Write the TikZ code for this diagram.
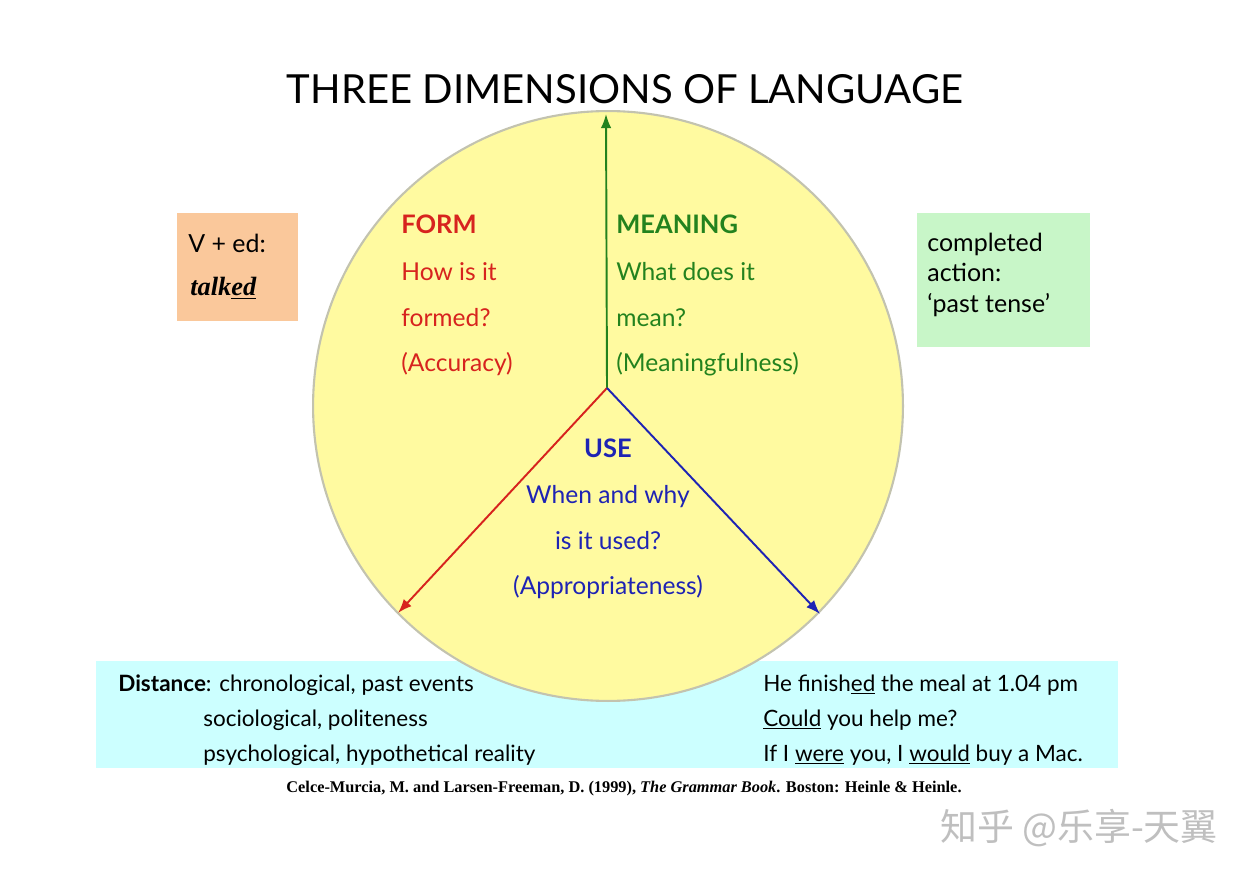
\documentclass[tikz,border=0pt]{standalone}
\usepackage{fontspec}
\usetikzlibrary{arrows.meta}
\setmainfont{Lato}
\newfontfamily\citefont{Liberation Serif}
\newfontfamily\cjk{Noto Sans CJK SC}
\definecolor{kreisgelb}{RGB}{255,250,160}
\definecolor{kreisrand}{RGB}{195,195,175}
\definecolor{orangebox}{RGB}{250,200,155}
\definecolor{gruenbox}{RGB}{200,246,200}
\definecolor{tuerkisbox}{RGB}{204,255,255}
\definecolor{formrot}{RGB}{215,35,30}
\definecolor{meaninggruen}{RGB}{35,130,30}
\definecolor{useblau}{RGB}{30,35,180}

\begin{document}
\begin{tikzpicture}[x=0.02cm, y=-0.02cm,
  txt/.style={anchor=base west, inner sep=0pt, font=\fontsize{14}{17}\selectfont},
  mid/.style={anchor=base, inner sep=0pt, font=\fontsize{14}{17}\selectfont},
  klein/.style={anchor=base west, inner sep=0pt, font=\fontsize{12.8}{15}\selectfont},
  box/.style={anchor=base west, inner sep=0pt, font=\fontsize{14.2}{17}\selectfont},
  pfeil/.style={line width=1.1pt, -{Latex[length=8pt,width=6pt]}}]
\useasboundingbox (0,0) rectangle (1250,878);
\fill[white] (0,0) rectangle (1250,878);

% boxes
\fill[tuerkisbox] (96,661) rectangle (1118,768);
\fill[orangebox] (177,213) rectangle (298,321);
\fill[gruenbox] (917,213) rectangle (1090,347);

% circle
\draw[kreisrand, fill=kreisgelb, line width=1.2pt] (608,406) circle[radius=5.9cm];
\coordinate (mitte) at (607,388);
\coordinate (oben) at (606,114);
\coordinate (links) at (398,613);
\coordinate (rechts) at (820,614);
\draw[meaninggruen, pfeil] (mitte) -- (oben);
\draw[formrot, pfeil] (mitte) -- (links);
\draw[useblau, pfeil] (mitte) -- (rechts);

% title
\node[anchor=base, inner sep=0pt, font=\fontsize{22.8}{27}\selectfont] (titel) at (625,104) {THREE DIMENSIONS OF LANGUAGE};

% form
\node[txt, formrot, font=\fontsize{14.5}{17}\bfseries] (form) at (401,234) {FORM};
\node[txt, formrot] (form1) at (401,281) {How is it};
\node[txt, formrot] (form2) at (401,327) {formed?};
\node[txt, formrot] (form3) at (401,371) {(Accuracy)};

% meaning
\node[txt, meaninggruen, font=\fontsize{14.5}{17}\bfseries] (meaning) at (616,234) {MEANING};
\node[txt, meaninggruen] (meaning1) at (616,281) {What does it};
\node[txt, meaninggruen] (meaning2) at (616,327) {mean?};
\node[txt, meaninggruen] (meaning3) at (616,371) {(Meaningfulness)};

% use
\node[mid, useblau, font=\fontsize{14.5}{17}\bfseries] (use) at (608,457) {USE};
\node[mid, useblau] (use1) at (608,503) {When and why};
\node[mid, useblau] (use2) at (608,549) {is it used?};
\node[mid, useblau] (use3) at (608,594) {(Appropriateness)};

% side boxes
\node[box] (form4) at (188,253) {V + ed:};
\node[box, font=\citefont\fontsize{15}{18}\bfseries\itshape] (form5) at (190,296) {talk\underline{ed}};
\node[box] (meaning4) at (927,252) {completed};
\node[box] (meaning5) at (927,282) {action:};
\node[box] (meaning6) at (927,313) {‘past tense’};

% distance
\node[klein] (dist1) at (118,691) {\textbf{Distance}: chronological, past events};
\node[klein] (dist2) at (203,726) {sociological, politeness};
\node[klein] (dist3) at (203,761) {psychological, hypothetical reality};
\node[klein] (bsp1) at (763,691) {He finish\underline{ed} the meal at 1.04 pm};
\node[klein] (bsp2) at (763,726) {\underline{Could} you help me?};
\node[klein] (bsp3) at (763,761) {If I \underline{were} you, I \underline{would} buy a Mac.};

% citation
\node[anchor=base, inner sep=0pt, font=\citefont\fontsize{9.3}{11}\bfseries] (quelle) at (624,792) {Celce-Murcia, M. and Larsen-Freeman, D. (1999), \textit{The Grammar Book}. Boston: Heinle \& Heinle.};

% watermark
\node[anchor=base west, inner sep=0pt, text=black!25, font=\cjk\fontsize{21}{24}\selectfont] (zeichen) at (940,840) {知乎 @乐享-天翼};
\end{tikzpicture}
\end{document}
